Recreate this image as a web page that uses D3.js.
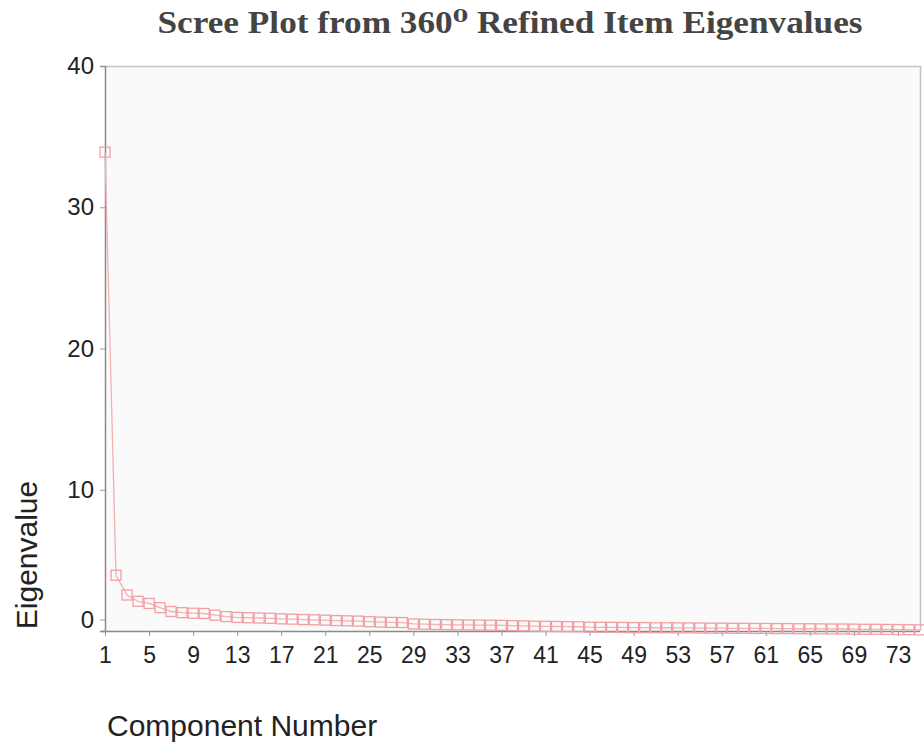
<!DOCTYPE html>
<html>
<head>
<meta charset="utf-8">
<script src="https://cdn.jsdelivr.net/npm/d3@7"></script>
<style>
  html, body { margin: 0; padding: 0; background: #ffffff; }
  svg { display: block; }
</style>
</head>
<body>
<svg id="chart" width="924" height="744"></svg>
<script>
// ---- data ----
const components = d3.range(1, 76);
const eigenvalues = [
  33.9, 3.95, 2.55, 2.10, 1.95, 1.65, 1.38, 1.30, 1.26, 1.24,
  1.12, 1.02, 0.96, 0.94, 0.92, 0.90, 0.86, 0.84, 0.81, 0.79,
  0.77, 0.74, 0.72, 0.70, 0.66, 0.63, 0.61, 0.60, 0.50, 0.48,
  0.46, 0.45, 0.44, 0.43, 0.42, 0.41, 0.40, 0.38, 0.36, 0.34,
  0.33, 0.32, 0.31, 0.30, 0.27, 0.26, 0.26, 0.25, 0.24, 0.24,
  0.23, 0.23, 0.22, 0.22, 0.21, 0.20, 0.20, 0.19, 0.19, 0.18,
  0.18, 0.17, 0.17, 0.16, 0.16, 0.15, 0.14, 0.14, 0.13, 0.12,
  0.12, 0.11, 0.10, 0.09, 0.08
];
const xTicks = d3.range(1, 74, 4);   // 1,5,...,73
const yTicks = [0, 10, 20, 30, 40];
const titleText = "Scree Plot from 360\u2070 Refined Item Eigenvalues";
const xTitle = "Component Number";
const yTitle = "Eigenvalue";

const data = components.map((c, i) => ({ c, v: eigenvalues[i] }));

// ---- layout ----
const svg = d3.select("#chart");
const pLeft = 105, pRight = 920, pTop = 66, pBottom = 631;

const x = d3.scaleLinear().domain([1, 75]).range([pLeft, pRight]);
const y = d3.scaleLinear().domain([0, 40]).range([pBottom, pTop]);

// plot background
svg.append("rect")
  .attr("x", pLeft).attr("y", pTop)
  .attr("width", pRight - pLeft).attr("height", pBottom - pTop)
  .attr("fill", "#fafafa");

// top & right border
svg.append("path")
  .attr("d", `M${pLeft},${pTop + 0.5}H${pRight + 0.5}V${pBottom}`)
  .attr("fill", "none").attr("stroke", "#c4c4c4").attr("stroke-width", 1.5);

// title
svg.append("text")
  .attr("x", 510).attr("y", 33)
  .attr("text-anchor", "middle")
  .attr("font-family", "'Liberation Serif', 'DejaVu Serif', serif")
  .attr("font-weight", "bold")
  .attr("font-size", 31)
  .attr("fill", "#444")
  .attr("textLength", 705)
  .attr("lengthAdjust", "spacingAndGlyphs")
  .text(titleText);

// y axis
const yAxis = d3.axisLeft(y).tickValues(yTicks).tickSize(5).tickPadding(6).tickFormat(d3.format("d"));
const gy = svg.append("g").attr("transform", `translate(${pLeft},0)`).call(yAxis);
gy.select(".domain").attr("stroke", "#8a8a8a").attr("stroke-width", 1.5);
gy.selectAll(".tick line").attr("stroke", "#999");
gy.selectAll(".tick text")
  .attr("font-family", "'Liberation Sans', Arial, sans-serif")
  .attr("font-size", 24).attr("fill", "#222");
// the 0 label sits raised above the x axis
gy.selectAll(".tick").filter(d => d === 0)
  .attr("transform", `translate(0,${y(0) - 11})`);

// x axis
const xAxis = d3.axisBottom(x).tickValues(xTicks).tickSize(5).tickPadding(11).tickFormat(d3.format("d"));
const gx = svg.append("g").attr("transform", `translate(0,${pBottom})`).call(xAxis);
gx.select(".domain").attr("stroke", "#8a8a8a").attr("stroke-width", 1.5)
  .attr("d", `M${pLeft - 3},0.5H${pRight}`);
gx.selectAll(".tick line").attr("stroke", "#999");
gx.selectAll(".tick text")
  .attr("font-family", "'Liberation Sans', Arial, sans-serif")
  .attr("font-size", 23).attr("fill", "#222");

// axis titles
svg.append("text")
  .attr("x", 107).attr("y", 736)
  .attr("font-family", "'Liberation Sans', Arial, sans-serif")
  .attr("font-size", 30).attr("fill", "#222")
  .text(xTitle);

svg.append("text")
  .attr("transform", `translate(37,555) rotate(-90)`)
  .attr("text-anchor", "middle")
  .attr("font-family", "'Liberation Sans', Arial, sans-serif")
  .attr("font-size", 30).attr("fill", "#222")
  .text(yTitle);

// line
const line = d3.line().x(d => x(d.c)).y(d => y(d.v));
svg.append("path")
  .datum(data)
  .attr("d", line)
  .attr("fill", "none")
  .attr("stroke", "#f4b0b3")
  .attr("stroke-width", 1.3);

// markers (hollow squares)
const s = 10;
svg.append("g").selectAll("rect")
  .data(data)
  .join("rect")
  .attr("x", d => x(d.c) - s / 2)
  .attr("y", d => y(d.v) - s / 2)
  .attr("width", s).attr("height", s)
  .attr("fill", "none")
  .attr("stroke", "#f0a0a4")
  .attr("stroke-width", 1.3);
</script>
</body>
</html>
